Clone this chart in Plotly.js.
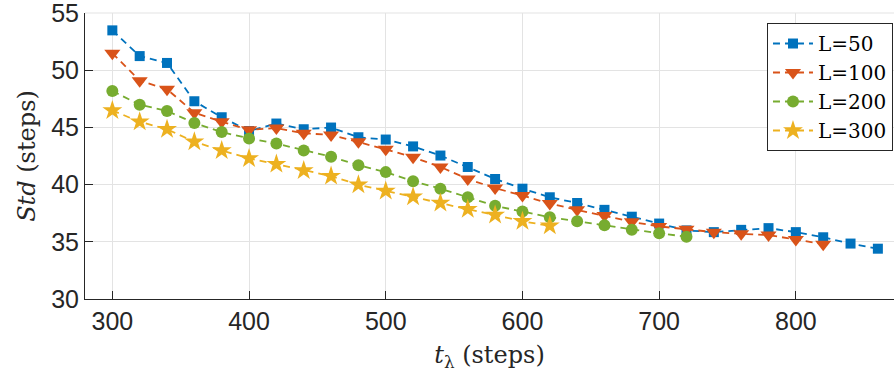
<!DOCTYPE html>
<html>
<head>
<meta charset="utf-8">
<script src="https://cdn.plot.ly/plotly-3.0.1.min.js"></script>
<style>html,body{margin:0;padding:0;background:#fff;}#chart{width:894px;height:380px;}</style>
</head>
<body>
<div id="chart"></div>
<script>
const x50 = [300,320,340,360,380,400,420,440,460,480,500,520,540,560,580,600,620,640,660,680,700,720,740,760,780,800,820,840,860];
const y50 = [53.5,51.25,50.65,47.3,45.9,44.7,45.35,44.85,45.0,44.15,43.95,43.35,42.55,41.55,40.5,39.65,38.9,38.4,37.8,37.2,36.6,36.0,35.85,36.05,36.2,35.85,35.4,34.85,34.4];
const x100 = [300,320,340,360,380,400,420,440,460,480,500,520,540,560,580,600,620,640,660,680,700,720,740,760,780,800,820];
const y100 = [51.5,49.1,48.35,46.3,45.5,44.8,44.95,44.5,44.35,43.75,43.1,42.4,41.55,40.5,39.7,39.05,38.35,37.8,37.3,36.75,36.35,36.1,35.85,35.7,35.6,35.2,34.8];
const x200 = [300,320,340,360,380,400,420,440,460,480,500,520,540,560,580,600,620,640,660,680,700,720];
const y200 = [48.2,47.0,46.45,45.4,44.6,44.05,43.6,43.0,42.45,41.7,41.1,40.3,39.65,38.9,38.15,37.65,37.15,36.8,36.45,36.05,35.75,35.45];
const x300 = [300,320,340,360,380,400,420,440,460,480,500,520,540,560,580,600,620];
const y300 = [46.5,45.5,44.85,43.75,43.0,42.3,41.8,41.25,40.75,40.0,39.45,38.95,38.4,37.85,37.35,36.8,36.4];
const names = ['L=50','L=100','L=200','L=300'];
const xTicks = [300,400,500,600,700,800];
const yTicks = [30,35,40,45,50,55];
const colors = ['#0072BD','#D95319','#77AC30','#EDB120'];
const symbols = ['square','triangle-down','circle','star'];
const sizes = [10,14,12,15];

const xs = [x50,x100,x200,x300];
const ys = [y50,y100,y200,y300];
const traces = names.map((n,i)=>({
  x: xs[i], y: ys[i], name: n, type: 'scatter', mode: 'lines+markers',
  line: {color: colors[i], width: 1.8, dash: '7px,5px'},
  marker: {symbol: symbols[i], size: sizes[i], color: colors[i], line: {width: 0}},
  cliponaxis: false
}));

const axisCommon = {
  showline: true, linecolor: '#262626', linewidth: 1,
  ticks: 'inside', ticklen: 8, tickcolor: '#262626', tickwidth: 1,
  showgrid: true, gridcolor: '#e3e3e3', gridwidth: 1,
  zeroline: false, ticklabeloverflow: 'allow',
  tickfont: {family: 'Liberation Sans, Arial, sans-serif', size: 25, color: '#262626'}
};

const layout = {
  width: 894, height: 380,
  margin: {l: 85, r: 0, t: 13, b: 81},
  paper_bgcolor: '#fff', plot_bgcolor: '#fff',
  showlegend: true,
  xaxis: Object.assign({}, axisCommon, {
    range: [280, 871.8], tickvals: xTicks, ticktext: xTicks.map(String),
    title: {text: '<i>t</i><sub>λ</sub> (steps)', font: {family: 'DejaVu Serif, serif', size: 24, color: '#262626'}, standoff: 12}
  }),
  yaxis: Object.assign({}, axisCommon, {
    range: [30, 55.02], tickvals: yTicks, ticktext: yTicks.map(String),
    title: {text: '<i>Std</i> (steps)', font: {family: 'DejaVu Serif, serif', size: 24, color: '#262626'}, standoff: 8}
  }),
  shapes: [{type: 'line', xref: 'paper', yref: 'paper', x0: 0, x1: 1, y0: 1, y1: 1, line: {color: '#e3e3e3', width: 1}, layer: 'below'}],
  legend: {
    x: 0.843, y: 0.965, xanchor: 'left', yanchor: 'top',
    bgcolor: '#fff', bordercolor: '#262626', borderwidth: 1,
    font: {family: 'DejaVu Serif, serif', size: 20, color: '#000'},
    itemwidth: 40
  }
};

Plotly.newPlot('chart', traces, layout, {staticPlot: true, displayModeBar: false});
</script>
</body>
</html>
